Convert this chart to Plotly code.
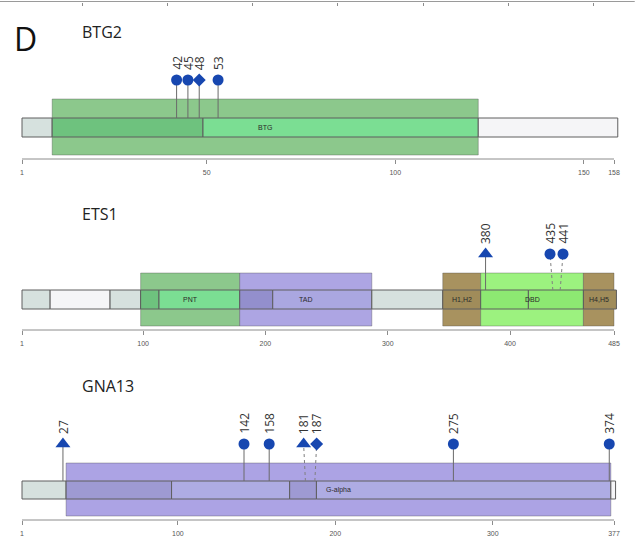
import plotly.graph_objects as go

W, H = 637, 539

# ---------------- protein data ----------------
# BTG2
btg2_len = 158
btg2_ticks = [1, 50, 100, 150, 158]
btg2_dom_name = ["BTG"]
btg2_dom_start = [9]
btg2_dom_end = [122]
btg2_seg_start = [1, 9, 49, 122]
btg2_seg_end = [9, 49, 122, 159]
btg2_seg_kind = ["core", "core", "BTG", "tail"]
btg2_mut_pos = [42, 45, 48, 53]
btg2_mut_mark = ["circle", "circle", "diamond", "circle"]

# ETS1
ets1_len = 485
ets1_ticks = [1, 100, 200, 300, 400, 485]
ets1_dom_name = ["PNT", "TAD", "H1,H2", "DBD", "H4,H5"]
ets1_dom_start = [98, 179, 345, 376, 460]
ets1_dom_end = [179, 287, 376, 460, 485]
ets1_seg_start = [1, 24, 73, 98, 113, 179, 206, 287, 345, 376, 415, 460]
ets1_seg_end = [24, 73, 98, 113, 179, 206, 287, 345, 376, 415, 460, 487]
ets1_seg_kind = ["core", "tail", "core", "core", "PNT", "core", "TAD",
                 "core", "H1,H2", "DBD", "DBD", "H4,H5"]
ets1_mut_pos = [380, 435, 441]
ets1_mut_mark = ["triangle", "circle", "circle"]

# GNA13
gna13_len = 377
gna13_ticks = [1, 100, 200, 300, 377]
gna13_dom_name = ["G-alpha"]
gna13_dom_start = [29]
gna13_dom_end = [375]
gna13_seg_start = [1, 29, 96, 171, 188, 375]
gna13_seg_end = [29, 96, 171, 188, 375, 378]
gna13_seg_kind = ["core", "core", "G-alpha", "core", "G-alpha", "tail"]
gna13_mut_pos = [27, 142, 158, 181, 187, 275, 374]
gna13_mut_mark = ["triangle", "circle", "circle", "triangle", "diamond", "circle", "circle"]

# axis of the track above (cut off at the top edge)
prev_ticks = [50, 100, 150, 200, 250, 300, 350]
prev_end = 374

# ---------------- styles ----------------
CORE = "#d6e1de"
TAIL = "#f5f5f7"
EDGE = "#5e5e5e"
HEAD = "#1747b0"
DOMAIN_STYLE = {
    "BTG":     dict(outer="#8cc88c", inner="#7bde93", under="#6ec27e"),
    "PNT":     dict(outer="#8cc88c", inner="#7bde93", under="#6ec27e"),
    "TAD":     dict(outer="#ada5e3", inner="#aaa7e0", under="#938fcd"),
    "H1,H2":   dict(outer="#a8925f", inner="#a08c5a", under="#a08c5a"),
    "H4,H5":   dict(outer="#a8925f", inner="#a08c5a", under="#a08c5a"),
    "DBD":     dict(outer="#9cf27f", inner="#8de972", under="#8de972"),
    "G-alpha": dict(outer="#aca3e4", inner="#aeace3", under="#9e9ad3"),
}
SYMBOL = {"circle": ("circle", 11), "triangle": ("triangle-up", 13), "diamond": ("diamond", 10)}

PX_LEFT, PX_RIGHT = 22, 614  # pixel columns of residue 1 and the last residue

proteins = [
    dict(name="BTG2", length=btg2_len, ticks=btg2_ticks,
         dn=btg2_dom_name, ds=btg2_dom_start, de=btg2_dom_end,
         ss=btg2_seg_start, se=btg2_seg_end, sk=btg2_seg_kind,
         mp=btg2_mut_pos, mm=btg2_mut_mark,
         title_y=31.5, bb_top=118, bb_bot=137, box_top=99, box_bot=155, head=80, axis=159),
    dict(name="ETS1", length=ets1_len, ticks=ets1_ticks,
         dn=ets1_dom_name, ds=ets1_dom_start, de=ets1_dom_end,
         ss=ets1_seg_start, se=ets1_seg_end, sk=ets1_seg_kind,
         mp=ets1_mut_pos, mm=ets1_mut_mark,
         title_y=213.5, bb_top=290, bb_bot=309, box_top=273, box_bot=326, head=254, axis=330),
    dict(name="GNA13", length=gna13_len, ticks=gna13_ticks,
         dn=gna13_dom_name, ds=gna13_dom_start, de=gna13_dom_end,
         ss=gna13_seg_start, se=gna13_seg_end, sk=gna13_seg_kind,
         mp=gna13_mut_pos, mm=gna13_mut_mark,
         title_y=386, bb_top=481, bb_bot=499, box_top=463, box_bot=516, head=444, axis=520),
]


def spread_heads(pos, scale, near=11.0, gap=13.0):
    """Push apart lollipop heads that would overlap (distances in pixels)."""
    px = [p * scale for p in pos]
    out = list(px)
    for i in range(len(px) - 1):
        if px[i + 1] - px[i] < near:
            mid = (px[i] + px[i + 1]) / 2
            out[i], out[i + 1] = mid - gap / 2, mid + gap / 2
    return [o / scale for o in out]


fig = go.Figure()
shapes, annotations = [], []
layout_axes = {}

for k, p in enumerate(proteins):
    axn = "" if k == 0 else str(k + 1)
    xref = "x" + axn
    L = p["length"]
    scale = (PX_RIGHT - PX_LEFT) / (L - 1)
    x_lo = 1 - PX_LEFT / scale
    x_hi = L + (W - PX_RIGHT) / scale

    layout_axes["xaxis" + axn] = dict(
        domain=[0, 1], range=[x_lo, x_hi], anchor="free",
        position=1 - p["axis"] / H, overlaying=None if k == 0 else "x",
        showgrid=False, zeroline=False, showline=False,
        tickmode="array", tickvals=p["ticks"], ticktext=[str(t) for t in p["ticks"]],
        ticks="outside", ticklen=4, tickwidth=1, tickcolor="#8c8c8c",
        tickfont=dict(size=7, color="#555555", family="Liberation Sans"),
        ticklabelstandoff=3,
    )

    # axis baseline
    shapes.append(dict(type="line", xref=xref, yref="y", x0=1, x1=L,
                       y0=p["axis"], y1=p["axis"], line=dict(color="#8c8c8c", width=1),
                       layer="below"))

    # outer domain boxes
    for name, s, e in zip(p["dn"], p["ds"], p["de"]):
        st = DOMAIN_STYLE[name]
        shapes.append(dict(type="rect", xref=xref, yref="y", x0=s, x1=e,
                           y0=p["box_top"], y1=p["box_bot"], fillcolor=st["outer"],
                           line=dict(color="rgba(70,70,70,0.35)", width=1), layer="below"))

    # backbone pieces
    for s, e, kind in zip(p["ss"], p["se"], p["sk"]):
        if kind == "core":
            color = CORE
            for name, ds, de in zip(p["dn"], p["ds"], p["de"]):
                if s >= ds and e <= de:
                    color = DOMAIN_STYLE[name]["under"]
        elif kind == "tail":
            color = TAIL
        else:
            color = DOMAIN_STYLE[kind]["inner"]
        shapes.append(dict(type="rect", xref=xref, yref="y", x0=s, x1=e,
                           y0=p["bb_top"], y1=p["bb_bot"], fillcolor=color,
                           line=dict(color=EDGE, width=1), layer="below"))

    # domain labels, centred on the domain box
    for name, s, e in zip(p["dn"], p["ds"], p["de"]):
        annotations.append(dict(x=(s + e) / 2, y=(p["bb_top"] + p["bb_bot"]) / 2,
                                xref=xref, yref="y", text=name, showarrow=False,
                                font=dict(size=7, color="#2a2a2a", family="Liberation Sans"),
                                xanchor="center", yanchor="middle"))

    # lollipops
    head_x = spread_heads(p["mp"], scale)
    for pos, hx, mark in zip(p["mp"], head_x, p["mm"]):
        moved = abs(hx - pos) > 1e-6
        shapes.append(dict(type="line", xref=xref, yref="y", x0=pos, x1=hx,
                           y0=p["bb_top"], y1=p["head"],
                           line=dict(color="#6a6a6a" if not moved else "#808080",
                                     width=1, dash="dot" if moved else "solid"),
                           layer="below"))
        annotations.append(dict(x=hx, y=p["head"] - 8, xref=xref, yref="y",
                                text=str(pos), textangle=-90, showarrow=False,
                                xanchor="center", yanchor="bottom",
                                font=dict(size=12, color="#333333", family="Open Sans")))
    for mark in ("circle", "triangle", "diamond"):
        xs = [hx for hx, m in zip(head_x, p["mm"]) if m == mark]
        if not xs:
            continue
        sym, size = SYMBOL[mark]
        fig.add_trace(go.Scatter(
            x=xs, y=[p["head"]] * len(xs), xaxis=xref, yaxis="y", mode="markers",
            marker=dict(symbol=sym, size=size, color=HEAD, line=dict(width=0)),
            hoverinfo="skip", showlegend=False))

    # protein name
    annotations.append(dict(x=80 / W, y=p["title_y"], xref="paper", yref="y",
                            text=p["name"], showarrow=False, xanchor="left", yanchor="middle",
                            font=dict(size=16, color="#222222", family="Open Sans")))

# cut-off axis of the track above
prev_scale = 85.3 / 50
layout_axes["xaxis4"] = dict(
    domain=[0, 1], range=[50 - 82 / prev_scale, 50 + (W - 82) / prev_scale],
    anchor="free", position=1 - 1.5 / H, overlaying="x",
    showgrid=False, zeroline=False, showline=False, showticklabels=False,
    tickmode="array", tickvals=prev_ticks, ticks="outside", ticklen=3,
    tickcolor="#8c8c8c", tickwidth=1)
shapes.append(dict(type="line", xref="x4", yref="y", x0=50 - 82 / prev_scale, x1=prev_end,
                   y0=1.5, y1=1.5, line=dict(color="#9a9a9a", width=1), layer="below"))

# panel letter
annotations.append(dict(x=12 / W, y=38.5, xref="paper", yref="y", text="D",
                        showarrow=False, xanchor="left", yanchor="middle",
                        font=dict(size=32, color="#111111", family="Open Sans")))

fig.update_layout(
    width=W, height=H, margin=dict(l=0, r=0, t=0, b=0),
    paper_bgcolor="white", plot_bgcolor="white",
    yaxis=dict(domain=[0, 1], range=[H, 0], visible=False, fixedrange=True),
    shapes=shapes, annotations=annotations, showlegend=False,
    **layout_axes,
)

fig.write_html("out.html")
